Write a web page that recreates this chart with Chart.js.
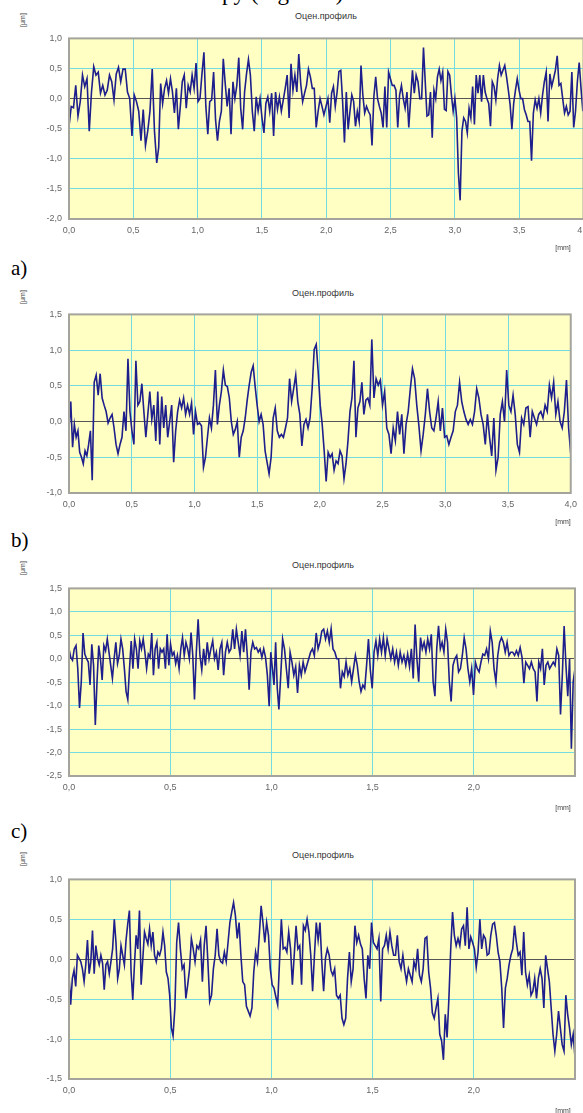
<!DOCTYPE html>
<html>
<head>
<meta charset="utf-8">
<script src="https://cdn.jsdelivr.net/npm/chart.js@4.4.0/dist/chart.umd.min.js"></script>
<style>
    html, body { margin: 0; padding: 0; background: #fff; }
    body { width: 583px; height: 1113px; overflow: hidden; position: relative; font-family: 'Liberation Sans', Arial, sans-serif; }
    canvas { position: absolute; left: 0; }
    .title { position: absolute; font-size: 9px; color: #333; transform: translate(-50%, -50%); white-space: nowrap; }
    .unit-y { position: absolute; left: 22px; font-size: 7px; color: #444; transform: translate(-50%, -50%) rotate(-90deg); white-space: nowrap; }
    .unit-x { position: absolute; left: 563px; font-size: 7px; color: #444; transform: translate(-50%, -50%); white-space: nowrap; }
    .fig-label { position: absolute; left: 11px; font-family: 'Liberation Serif', 'Times New Roman', serif; font-size: 21px; color: #000; transform: translateY(-50%); }
    .page-text { position: absolute; left: 222px; top: -19px; line-height: 23px; font-family: 'Liberation Serif', 'Times New Roman', serif; font-size: 23px; color: #000; white-space: nowrap; }
</style>
</head>
<body>
<div class="page-text">py (Figure 3)</div>

<div class="title" style="left:326px; top:16px;">Оцен.профиль</div>
<div class="unit-y" style="top:20px;">[μm]</div>
<canvas id="chartA" width="600" height="218" style="top:26px;"></canvas>
<div class="unit-x" style="top:247px;">[mm]</div>
<div class="fig-label" style="top:268px;">a)</div>

<div class="title" style="left:323px; top:293px;">Оцен.профиль</div>
<div class="unit-y" style="top:297px;">[μm]</div>
<canvas id="chartB" width="583" height="216" style="top:302px;"></canvas>
<div class="unit-x" style="top:521px;">[mm]</div>
<div class="fig-label" style="top:540px;">b)</div>

<div class="title" style="left:323px; top:565px;">Оцен.профиль</div>
<div class="unit-y" style="top:568px;">[μm]</div>
<canvas id="chartC" width="583" height="225" style="top:576px;"></canvas>
<div class="unit-x" style="top:807px;">[mm]</div>
<div class="fig-label" style="top:831px;">c)</div>

<div class="title" style="left:323px; top:855px;">Оцен.профиль</div>
<div class="unit-y" style="top:859px;">[μm]</div>
<canvas id="chartD" width="583" height="237" style="top:867px;"></canvas>
<div class="unit-x" style="top:1110px;">[mm]</div>

<script>
// evaluation profiles, heights in µm
const profileA = [
    -0.46, -0.13, -0.15, 0.22, -0.29, -0.05, 0.39, 0.2, 0.33, -0.54, 0.11, 0.53, 0.39, 0.44, 0.09, 0.22, 0.06, 0.14, 0.39, 0.28,
    -0.02, 0.41, 0.52, 0.28, 0.49, 0.49, 0.11, 0, -0.62, 0.06, -0.05, -0.21, -0.7, -0.18, -0.78, -0.54, -0.21, 0.49, -0.54, -1.07,
    -0.81, 0.25, -0.08, 0.17, 0.3, 0.09, 0.33, 0.11, -0.24, 0.17, -0.51, -0.13, 0.28, 0.39, -0.16, 0.22, 0.11, 0.39, 0.17, 0.59,
    -0.05, 0, 0.41, 0.77, -0.13, -0.59, -0.05, -0.02, 0.44, -0.35, -0.7, -0.38, -0.21, 0.66, 0.25, -0.13, 0.17, -0.59, 0.28, 0,
    0.22, 0.68, -0.16, -0.51, 0.11, 0.41, 0.65, 0.39, -0.21, -0.54, 0.03, -0.21, 0, -0.32, -0.57, -0.08, 0.03, -0.21, 0.09, -0.62,
    0.11, -0.18, 0.03, -0.21, -0.02, 0.17, 0.39, -0.32, 0.58, 0.14, 0.39, 0.11, 0.74, 0.25, -0.05, 0.09, 0.22, 0.49, 0.36, 0.17,
    0.17, -0.48, -0.21, 0, -0.13, -0.27,
    0, -0.4, 0.09, 0.2, -0.13, 0.11, 0.45, 0.47, -0.05, -0.73, 0.11, -0.51, -0.21, 0.06, -0.05, -0.46, -0.21, -0.38, 0.55, 0.06,
    -0.24, -0.13, -0.21, -0.27, -0.78, 0.03, 0.36, 0, -0.13, -0.24, -0.48, 0.2, -0.48, 0.44, 0.33, 0.22, 0.22, 0.14, -0.48, 0.06,
    0.22, 0, -0.16, 0.11, -0.48, 0, 0.47, 0.09, 0.39, 0.28, 0, 0, 0.85, 0.28, -0.29, -0.27, 0.11, -0.65, 0.14, 0,
    0.36, 0.49, 0.3, 0.44, -0.18, -0.2, 0.45, 0.39, 0.06, -0.21, 0, -0.32, -1.24, -1.69, -0.54, -0.32, -0.38, -0.57, -0.16, -0.32,
    0.2, -0.43, 0.39, 0.09, 0.39, -0.05, 0.39, 0.11, 0, -0.08, -0.46, 0.28, 0.2, -0.02, 0.33, 0.55, 0.39, 0.47, 0.55, 0.36,
    0.14, -0.1, -0.51, -0.08, 0.14, 0.33, 0.14, 0, 0, -0.18, -0.27, -0.38, -0.38, -1.03, -0.24, -0.02, -0.16, 0, -0.24, 0.06,
    0.28, 0.44, -0.38, 0.41, 0.2, 0.33, 0.47, 0.71, 0.22, 0.25, 0, -0.24, -0.13, -0.27, -0.21, 0.44, -0.48, -0.21, 0.28, 0.6,
    0.17, -0.21
];

const profileB = [
    -0.1, 0.28, -0.36, -0.04, -0.22, -0.13, -0.43, -0.5, -0.59, -0.41, -0.48, -0.32, -0.13, -0.82, 0.55, 0.65, 0.37, 0.67, 0.33, 0.23,
    0.14, -0.02, 0.05, 0.1, -0.09, -0.32, -0.45, -0.32, -0.22, 0.14, -0.13, 0.88, 0.14, -0.13, -0.32, 0.85, 0.23, 0.28, 0.53, 0.14,
    -0.22, 0.1, 0.42, 0.03, 0.23, -0.27, 0.42, -0.32, 0.35, -0.09, 0.23, -0.22, 0, 0.23, -0.57, -0.13, 0.14, 0.3, 0.19, 0.33,
    0.1, 0.23, 0.1, 0.26, -0.18, 0.14, -0.04, -0.02, -0.06, -0.64, -0.5, -0.22, 0.05, -0.09, 0.23, 0.72, -0.04, 0.23, 0.42, 0.72,
    0.51, 0.49, 0.33, 0, -0.18, -0.11, 0, -0.5, -0.22, -0.13, 0.05, 0.3, 0.51, 0.69, 0.78, 0.49, 0.23, 0, 0.1, -0.04,
    -0.41, -0.57, -0.73, -0.5, 0.05, 0.19, -0.13, -0.22, -0.18, -0.22, -0.09, 0.05, 0.6, 0.28, 0.46, 0.65, 0.28, 0.1, -0.34, -0.04,
    0.03, -0.09, 0.05, 0.46, 1.01, 1.08, 0.69, 0.23, -0.04, -0.41, -0.84, -0.43, -0.5, -0.45, -0.68, -0.55, -0.59, -0.41, -0.48, -0.8,
    -0.59, -0.27, 0.14, 0.33, 0.85, -0.22, 0.19, 0.28, 0.55, 0.1, 0.3, 0.33, 0.23, 1.15, 0.33, 0.6, 0.51, 0.58, 0.23, 0.42,
    -0.09, -0.18, -0.45, -0.09, -0.27, 0.14, -0.18, 0.1, -0.45, -0.04, 0.14, 0.46, 0.74, 0.6, 0.23, -0.06, -0.41, -0.18, 0.1, 0.46,
    0.14, -0.09, -0.13, 0.05, 0.28, -0.13, 0.19, -0.22, -0.2, -0.32, -0.22, -0.13, 0.14, 0.23, 0.55, 0.28, 0.14, 0.03, -0.04, 0.03,
    -0.04, 0.14, 0.46, 0.33, 0.1, -0.04, -0.32, 0.1, -0.22, -0.48, 0.05, -0.68, -0.5, 0.1, 0.28, 0, 0.72, 0.23, 0.14, 0.37,
    0.1, -0.32, -0.43, 0.05, -0.04, 0.19, 0.21, -0.22, 0.14, 0.05, -0.04, 0.1, 0.14, 0.05, 0.23, 0.14, 0.51, 0.33, 0.55, 0.1,
    0.28, 0, -0.09, 0.14, 0.58, -0.09, -0.45
];

const profileC = [
    0.21, 0.03, -0.03, 0.21, 0.28, -0.21, -1.05, -0.49, 0.55, 0.1, 0, -0.07, -0.56, 0.31, -0.14, -1.41, -0.49, 0.28, 0, -0.45,
    0.28, 0.17, 0.42, 0.14, -0.14, -0.42, 0, 0.35, -0.1, 0.07, 0.42, 0.21, -0.21, -0.7, -0.87, -0.21, 0.38, -0.21, 0.42, 0.21,
    -0.21, 0.38, 0.21, 0.42, 0.14, -0.21, 0.1, 0.03, 0.55, -0.35, 0.21, 0.35, -0.21, 0.21, 0.14, 0.21, -0.21, 0.52, -0.14, 0.31,
    0.07, 0.14, -0.1, 0.07, -0.21, 0.21, 0.45, 0.07, 0.35, 0.21, 0, 0.56, 0.07, -0.87, 0.14, 0.84, 0.07, -0.24, 0.21, -0.14,
    0.35, 0, 0.21, 0.38, 0, 0.14, -0.24, 0.21, 0.35, -0.35, 0.14, 0.35, 0.14, 0.21, 0.63, 0.21, 0.63, 0.35, 0.07, 0.59,
    0.14, 0.63, 0.07, -0.66, 0.14, 0.35, 0.21, 0.24, 0.14, 0.21, 0.03, 0.21, 0.03, -0.35, -1.01, 0.14, -0.21, -0.56, 0.35, -0.63,
    -1.08, -0.35, 0.42, 0.21, -0.21, -0.63, 0.14, -0.07, -0.35, -0.17, -0.73, -0.14, -0.35, -0.07, -0.28, -0.14, 0, 0.14, 0.21, 0.07,
    0.55, 0.21, 0.35, 0.59, 0.63, 0.42, 0.59, 0.35, 0.64, 0.21, 0.14, 0, 0, -0.63, -0.28, -0.38, -0.07, -0.35, -0.21, -0.49,
    -0.21, 0.07, -0.14, -0.49, -0.7, -0.56, -0.63, -0.14, 0.42, -0.24, -0.63, 0.14, 0.38, 0.07, 0.42, 0.14, 0.45, 0.07, 0.42, 0.21,
    0, 0.21, -0.07, 0.14, -0.14, 0.14, -0.07, 0.07, -0.14, 0.1, -0.17, 0.21, -0.42, 0.73, 0, -0.49, 0.45, 0.21, 0.35, 0.14,
    0.42, 0.21, 0.52, -0.49, -0.8, 0.21, 0.7, 0.21, 0.35, 0.14, 0.63, 0.35, -0.49, -0.91, -0.14, 0, 0.07, -0.28, -0.21, 0.07,
    0.45, 0.21, -0.21, -0.49, -0.21, -0.77, -0.07, -0.21, -0.28, -0.07, 0.1, 0.07, 0.21, 0, 0.59, 0.35, -0.21, -0.49, 0.07, 0.35,
    0.45, 0.35, 0.14, 0.35, 0.07, 0.14, 0.14, 0.07, 0.17, 0.07, 0.24, 0.03, -0.52, -0.07, -0.14, -0.21, -0.07, -0.21, -0.28, -0.91,
    -0.07, -0.21, 0.21, -0.56, -0.14, -0.07, -0.21, -0.14, -0.07, -0.14, 0.21, 0.07, -1.19, -0.35, 0.7, -0.14, -0.8, 0, -1.92, -0.49,
    -0.21
];

const profileD = [
    -0.2, -0.57, -0.24, -0.14, -0.34, 0.05, 0.01, -0.03, -0.12, -0.28, -0.07, 0.24, -0.18, -0.03, 0.36, -0.18, 0.17, 0.01, -0.07, 0.05,
    -0.05, -0.38, -0.07, -0.03, -0.18, -0.03, 0.13, 0.5, 0.21, -0.24, -0.12, 0.17, 0.05, -0.07, 0.24, 0.44, 0.61, -0.16, -0.51, -0.07,
    0.3, 0.13, 0.61, -0.32, 0.01, 0.34, 0.26, 0.19, 0.38, 0.17, 0.34, 0.05, -0.03, 0.09, 0.05, 0.13, 0.34, 0.17, -0.16, -0.24,
    -0.45, -0.86, -0.96, -0.61, 0.21, 0.46, 0.13, -0.12, -0.07, -0.49, -0.32, -0.12, 0.26, 0.13, -0.03, 0.17, 0.13, 0.24, -0.28, 0.17,
    0.42, -0.03, -0.53, -0.45, -0.12, 0.05, 0.38, 0.05, -0.03, -0.05, 0.09, -0.03, 0.21, 0.46, 0.59, 0.71, 0.55, 0.26, 0.46, 0.05,
    -0.28, -0.32, -0.59, -0.65, -0.71, -0.61, -0.16, 0.09, -0.03, 0.3, 0.67, 0.46, 0.21, 0.46, 0.3, -0.12, -0.32, -0.36, -0.47, -0.57,
    -0.03, 0.5, 0.13, 0.15, 0.09, 0.34, 0.13, -0.32, 0.05, 0.42, 0.13, 0.17, -0.32, 0.42, 0.36, 0.5, 0.34, 0.05, -0.4, 0.05,
    0.46, 0.24, 0.46, -0.03, -0.4, 0.01, 0.13, 0.05, -0.14, -0.2, -0.12, -0.45, -0.49, -0.45, -0.74, -0.82, -0.74, -0.24, 0.09, -0.28,
    -0.12, 0.42, 0.21, 0.3, 0.19, 0.13, -0.24, -0.49, 0.05, -0.12, 0.46, 0.21, 0.17, 0.13, 0.26, -0.53, 0.13, 0.17, 0.3, 0.13,
    0.34, 0.17, 0.05, 0.05, 0.3, -0.03, -0.12, 0.05, -0.14, -0.28, -0.12, -0.2, -0.28, -0.03, -0.12, 0.13, -0.2, -0.28, -0.12, 0.26,
    0.28, -0.16, -0.36, -0.67, -0.74, -0.61, -0.49, -0.94, -1.02, -1.26, -0.69, -0.98, -0.49, 0.13, 0.59, 0.3, 0.17, 0.26, 0.17, 0.38,
    0.42, 0.17, 0.65, 0.13, 0.28, 0.21, 0.13, -0.1, 0.09, 0.5, 0.13, 0.3, 0.26, 0.05, 0.07, 0.3, 0.44, 0.46, 0.3, 0.09,
    -0.03, -0.36, -0.86, -0.36, -0.24, -0.07, 0.05, 0.13, 0.42, 0.21, 0.05, 0.09, -0.2, 0.34, -0.16, -0.32, -0.2, -0.45, -0.4, -0.24,
    -0.49, -0.24, -0.12, -0.24, -0.61, 0.05, -0.12, -0.28, -0.61, -0.94, -1.15, -0.94, -0.65, -0.86, -1.07, -1.15, -0.45, -0.69, -0.86, -1.07,
    -0.94, -1.23
];

// where some distinct peaks/valleys sit along the trace: [sample index, position mm]
const anchorsA = [[0, 0], [39, 0.682], [63, 1.049], [125, 1.982], [126, 2.013], [178, 2.756], [199, 3.041], [239, 3.596], [267, 3.995]];
const anchorsB = [[0, 0], [13, 0.185], [31, 0.47], [102, 1.595], [125, 1.971], [153, 2.414], [211, 3.404], [246, 4.0]];
const anchorsC = [[0, 0], [15, 0.13], [73, 0.62], [114, 0.989], [120, 1.037], [193, 1.71], [213, 1.888], [259, 2.312], [280, 2.5]];
const anchorsD = [[0, 0], [62, 0.514], [95, 0.813], [155, 1.358], [209, 1.85], [242, 2.147], [281, 2.5]];

// evaluation lengths [mm] and height axis limits [µm]
const lengths = [4.0, 4.0, 2.5, 2.5];
const lastLabel = [4.0, 4.0, 2.0, 2.0];
const yMins = [-2.0, -1.0, -2.5, -1.5];
const yMaxs = [1.0, 1.5, 1.5, 1.0];

const fmt = v => v.toFixed(1).replace('.', ',');

// sample positions: evenly spaced between the read anchor positions
function positions(count, anchors) {
    const xs = [];
    for (let a = 0; a < anchors.length - 1; a++) {
        const [i0, x0] = anchors[a];
        const [i1, x1] = anchors[a + 1];
        for (let k = i0; k < i1; k++) xs.push(x0 + (x1 - x0) * (k - i0) / (i1 - i0));
    }
    xs.push(anchors[anchors.length - 1][1]);
    while (xs.length < count) xs.push(anchors[anchors.length - 1][1]);
    return xs;
}

const plotFrame = {
    id: 'plotFrame',
    beforeDraw(chart) {
        const a = chart.chartArea;
        const c = chart.ctx;
        c.save();
        c.fillStyle = '#ffffc4';
        c.fillRect(a.left, a.top, a.right - a.left, a.bottom - a.top);
        c.restore();
    },
    afterDraw(chart) {
        const a = chart.chartArea;
        const c = chart.ctx;
        c.save();
        c.strokeStyle = '#a4a49c';
        c.lineWidth = 2;
        c.strokeRect(a.left, a.top, a.right - a.left, a.bottom - a.top);
        c.restore();
    }
};

function makeChart(id, values, anchors, i, padRight) {
    const len = lengths[i];
    const xs = positions(values.length, anchors);
    const points = values.map((v, k) => ({ x: xs[k], y: v }));

    return new Chart(document.getElementById(id), {
        type: 'line',
        data: {
            datasets: [{
                data: points,
                borderColor: '#1e1e8c',
                borderWidth: 1.6,
                pointRadius: 0,
                tension: 0,
                fill: false
            }]
        },
        options: {
            responsive: false,
            animation: false,
            layout: { padding: { top: 10, right: padRight, left: 0, bottom: 0 } },
            plugins: { legend: { display: false }, tooltip: { enabled: false } },
            scales: {
                x: {
                    type: 'linear',
                    min: 0,
                    max: len,
                    afterFit: s => { s.height = 25; },
                    border: { display: false },
                    grid: { color: '#74dce0', lineWidth: 1, drawTicks: false },
                    ticks: {
                        stepSize: 0.5,
                        autoSkip: false,
                        maxRotation: 0,
                        padding: 6,
                        color: '#666',
                        font: { family: "'Liberation Sans', Arial, sans-serif", size: 9 },
                        callback: v => v > lastLabel[i] + 0.01 ? '' : fmt(v)
                    }
                },
                y: {
                    min: yMins[i],
                    max: yMaxs[i],
                    afterFit: s => { s.width = 69; },
                    border: { display: false },
                    grid: {
                        color: ctx => Math.abs(ctx.tick.value) < 1e-9 ? '#555' : '#74dce0',
                        lineWidth: 1,
                        drawTicks: false
                    },
                    ticks: {
                        stepSize: 0.5,
                        padding: 7,
                        color: '#666',
                        font: { family: "'Liberation Sans', Arial, sans-serif", size: 9 },
                        callback: v => fmt(v)
                    }
                }
            }
        },
        plugins: [plotFrame]
    });
}

makeChart('chartA', profileA, anchorsA, 0, 16.5);
makeChart('chartB', profileB, anchorsB, 1, 8);
makeChart('chartC', profileC, anchorsC, 2, 8);
makeChart('chartD', profileD, anchorsD, 3, 8);
</script>
</body>
</html>
